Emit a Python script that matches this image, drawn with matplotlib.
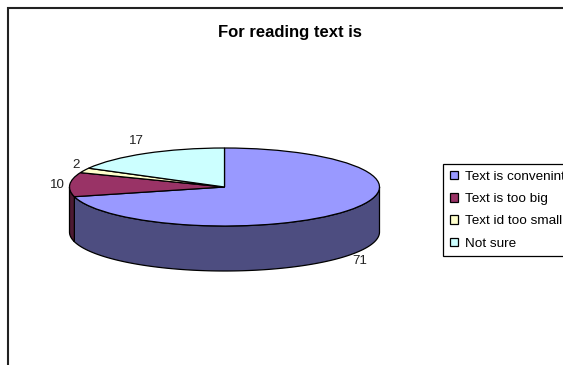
import numpy as np
import matplotlib
matplotlib.use("Agg")
import matplotlib.pyplot as plt

plt.rcParams["font.family"] = ["Liberation Sans", "DejaVu Sans"]

title = "For reading text is"
labels = ["Text is convenint", "Text is too big", "Text id too small", "Not sure"]
values = [71, 10, 2, 17]
colors = ["#9999FF", "#993366", "#FFFFCC", "#CCFFFF"]
wall_colors = ["#4D4D80", "#4D1A33", "#808066", "#668080"]

W, H = 563, 365
# pie centre and radii in pixels, the unit circle gets squashed into this ellipse
CX, CY, RX, RY = 224.5, 187, 155, 39
DEPTH = 45 / RY


def px(x, y):
    return (x - CX) / RX, (CY - y) / RY


fig = plt.figure(figsize=(W / 100, H / 100), dpi=100, facecolor="white")
ax = fig.add_axes([0, 0, 1, 1])

wedges, _ = ax.pie(values, colors=colors, startangle=90, counterclock=False,
                   wedgeprops={"edgecolor": "black", "linewidth": 0.9, "zorder": 3})
ax.set_aspect("auto")
ax.set_xlim(px(0, 0)[0], px(W, 0)[0])
ax.set_ylim(px(0, H)[1], px(0, 0)[1])

# side wall: only the part of each slice facing the viewer (90-270 deg clockwise from north)
edges = np.cumsum([0] + values) / sum(values) * 360
for start, end, wc in zip(edges[:-1], edges[1:], wall_colors):
    a0, a1 = max(start, 90), min(end, 270)
    if a1 <= a0:
        continue
    t = np.radians(np.linspace(a0, a1, 120))
    xs = np.sin(t)
    ys = np.cos(t)
    ax.fill(np.r_[xs, xs[::-1]], np.r_[ys, ys[::-1] - DEPTH], facecolor=wc,
            edgecolor="black", linewidth=0.9, zorder=2)

# chart frame, only top and left are inside the canvas
ax.plot(*zip(px(8, H), px(8, 8), px(W, 8)), color="#222222", linewidth=1.5,
        solid_joinstyle="miter", zorder=5)

ax.text(*px(290, 33), title, fontsize=12, fontweight="bold", ha="center",
        va="center", color="black")

# data labels sit around the pie
label_pos = [(360, 261), (57, 185), (76, 165), (136, 141)]
for v, pos in zip(values, label_pos):
    ax.text(*px(*pos), str(v), fontsize=9.6, ha="center", va="center", color="#222222")

leg = ax.legend(wedges, labels, loc="upper left",
                bbox_to_anchor=(443 / W, 1 - 164 / H), bbox_transform=fig.transFigure,
                fontsize=9.7, frameon=True, fancybox=False, framealpha=1,
                edgecolor="black", borderaxespad=0, borderpad=0.5,
                handlelength=0.6, handleheight=0.6, handletextpad=0.5,
                labelspacing=0.76)
leg.get_frame().set_linewidth(0.9)

fig.savefig("out.png", dpi=100, facecolor="white")
plt.close(fig)
